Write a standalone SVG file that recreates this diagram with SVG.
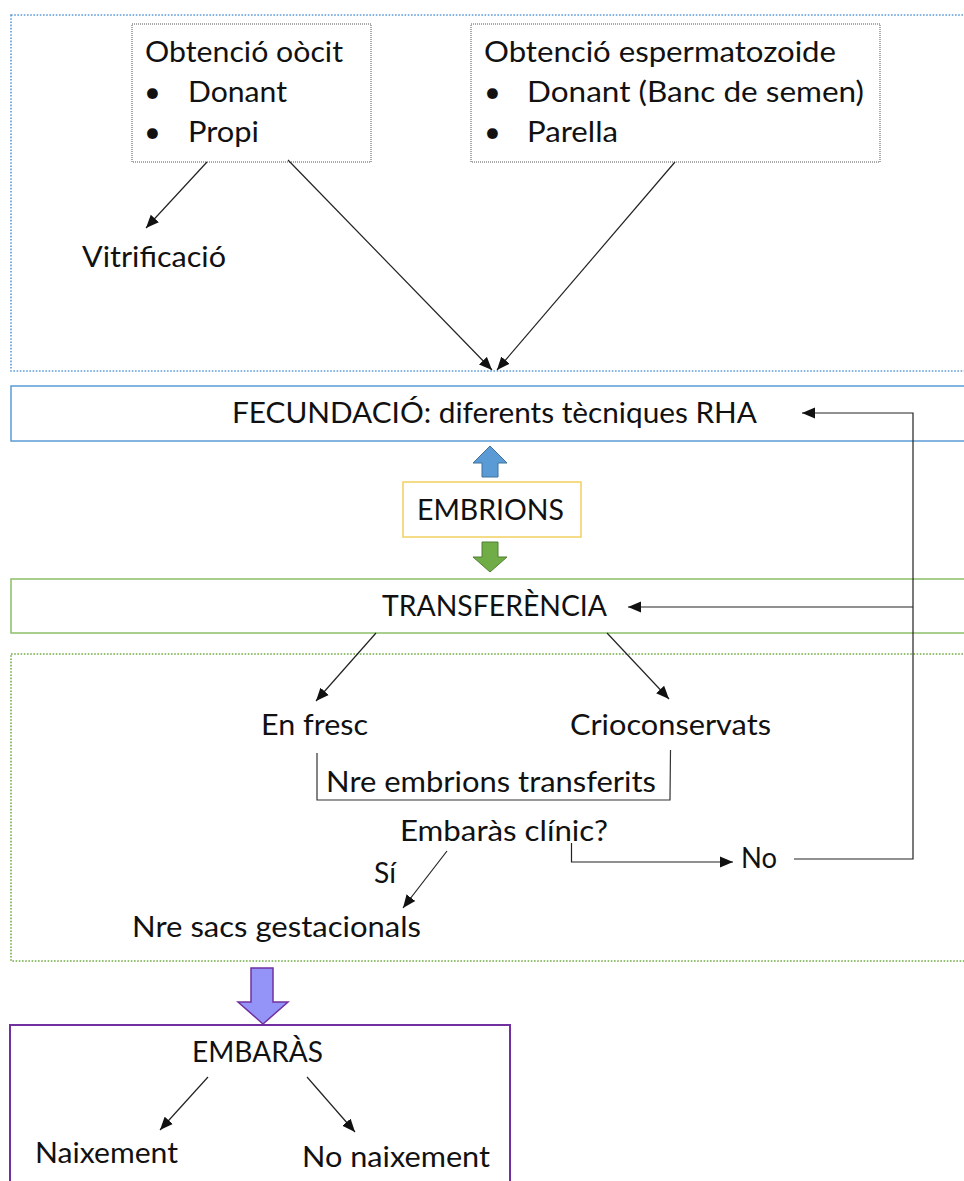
<svg xmlns="http://www.w3.org/2000/svg" width="964" height="1181" viewBox="0 0 964 1181">
<style>
text{font-family:Lato,"Liberation Sans","DejaVu Sans",sans-serif;font-size:29px;fill:#111}
.cn{fill:none;stroke:#222;stroke-width:1.2}
.dotbox{fill:none;stroke-width:1.6;stroke-dasharray:1.6 1.6}
.src{fill:#fff;stroke:#555;stroke-width:1;stroke-dasharray:1 1}
</style>
<defs>
<marker id="ah" markerUnits="userSpaceOnUse" markerWidth="14" markerHeight="12" viewBox="0 0 14 12" refX="13" refY="6" orient="auto">
<path d="M0 0.5 L13 6 L0 11.5 Z" fill="#111"/>
</marker>
</defs>
<rect width="964" height="1181" fill="#fff"/>

<g id="zone-obtencio"><rect class="dotbox" x="11" y="15" width="1000" height="356" stroke="#5b9bd5"/></g>
<g id="zone-resultats"><rect class="dotbox" x="11" y="654" width="1000" height="307" stroke="#70ad47"/></g>

<g id="node-oocit">
<rect class="src" x="132" y="24" width="239" height="138"/>
<text x="145" y="62" textLength="198" lengthAdjust="spacingAndGlyphs">Obtenció oòcit</text>
<text x="144" y="102">•</text><text x="188" y="102" textLength="99" lengthAdjust="spacingAndGlyphs">Donant</text>
<text x="144" y="142">•</text><text x="188" y="142" textLength="71" lengthAdjust="spacingAndGlyphs">Propi</text>
</g>

<g id="node-esperma">
<rect class="src" x="471" y="24" width="409" height="138"/>
<text x="484" y="62" textLength="352" lengthAdjust="spacingAndGlyphs">Obtenció espermatozoide</text>
<text x="484" y="102">•</text><text x="527" y="102" textLength="337" lengthAdjust="spacingAndGlyphs">Donant (Banc de semen)</text>
<text x="484" y="142">•</text><text x="527" y="142" textLength="91" lengthAdjust="spacingAndGlyphs">Parella</text>
</g>

<g id="node-vitrificacio"><text x="82" y="267" textLength="144" lengthAdjust="spacingAndGlyphs">Vitrificació</text></g>

<g id="node-fecundacio">
<rect x="11" y="386" width="1000" height="55" fill="#fff" stroke="#5b9bd5" stroke-width="1.5"/>
<text x="232" y="423" textLength="525" lengthAdjust="spacingAndGlyphs">FECUNDACIÓ: diferents tècniques RHA</text>
</g>

<g id="node-embrions">
<rect x="403" y="482" width="178" height="55" fill="#fff" stroke="#f2d05e" stroke-width="1.5"/>
<text x="417" y="520" textLength="147" lengthAdjust="spacingAndGlyphs">EMBRIONS</text>
</g>

<g id="node-transferencia">
<rect x="11" y="579" width="1000" height="54" fill="#fff" stroke="#8cbf6a" stroke-width="1.5"/>
<text x="382" y="616" textLength="225" lengthAdjust="spacingAndGlyphs">TRANSFERÈNCIA</text>
</g>

<g id="node-enfresc"><text x="261" y="735" textLength="107" lengthAdjust="spacingAndGlyphs">En fresc</text></g>
<g id="node-crio"><text x="570" y="735" textLength="201" lengthAdjust="spacingAndGlyphs">Crioconservats</text></g>
<g id="node-nre-embrions">
<path d="M317 753 V800 H670 L670.5 750" fill="none" stroke="#333" stroke-width="1.2"/>
<text x="326" y="792" textLength="330" lengthAdjust="spacingAndGlyphs">Nre embrions transferits</text>
</g>
<g id="node-clinic"><text x="400" y="841" textLength="208" lengthAdjust="spacingAndGlyphs">Embaràs clínic?</text></g>
<g id="node-no"><text x="741" y="868" textLength="36" lengthAdjust="spacingAndGlyphs">No</text></g>
<g id="node-si"><text x="374" y="883" textLength="22" lengthAdjust="spacingAndGlyphs">Sí</text></g>
<g id="node-sacs"><text x="132" y="937" textLength="289" lengthAdjust="spacingAndGlyphs">Nre sacs gestacionals</text></g>

<g id="node-embaras">
<rect x="10" y="1025" width="500" height="170" fill="#fff" stroke="#7030a0" stroke-width="2"/>
<text x="192" y="1062" textLength="131" lengthAdjust="spacingAndGlyphs">EMBARÀS</text>
<text x="35" y="1163" textLength="143" lengthAdjust="spacingAndGlyphs">Naixement</text>
<text x="302" y="1167" textLength="188" lengthAdjust="spacingAndGlyphs">No naixement</text>
</g>

<g id="connectors">
<path class="cn" d="M207 162 L146 228" marker-end="url(#ah)"/>
<path class="cn" d="M288 160 L492 370" marker-end="url(#ah)"/>
<path class="cn" d="M675 162 L497 370" marker-end="url(#ah)"/>
<path class="cn" d="M794 859 H913 V413 H802" marker-end="url(#ah)"/>
<path class="cn" d="M913 607 H628" marker-end="url(#ah)"/>
<path class="cn" d="M376 633 L316 701" marker-end="url(#ah)"/>
<path class="cn" d="M607 633 L669 699" marker-end="url(#ah)"/>
<path class="cn" d="M571.5 843 V862 H733" marker-end="url(#ah)"/>
<path class="cn" d="M447 851 L403 908" marker-end="url(#ah)"/>
<path class="cn" d="M208 1077 L160 1130" marker-end="url(#ah)"/>
<path class="cn" d="M307 1077 L355 1132" marker-end="url(#ah)"/>
<path d="M490 446 L507 463 H498 V477 H482 V463 H473 Z" fill="#5b9bd5" stroke="#41719c" stroke-width="1"/>
<path d="M482 542 H498 V557 H507 L490 572 L473 557 H482 Z" fill="#70ad47" stroke="#507e32" stroke-width="1"/>
<path d="M251 968 H273 V1002 H288 L263 1024 L238 1002 H251 Z" fill="#9494f8" stroke="#7030a0" stroke-width="1.5"/>
</g>
</svg>
